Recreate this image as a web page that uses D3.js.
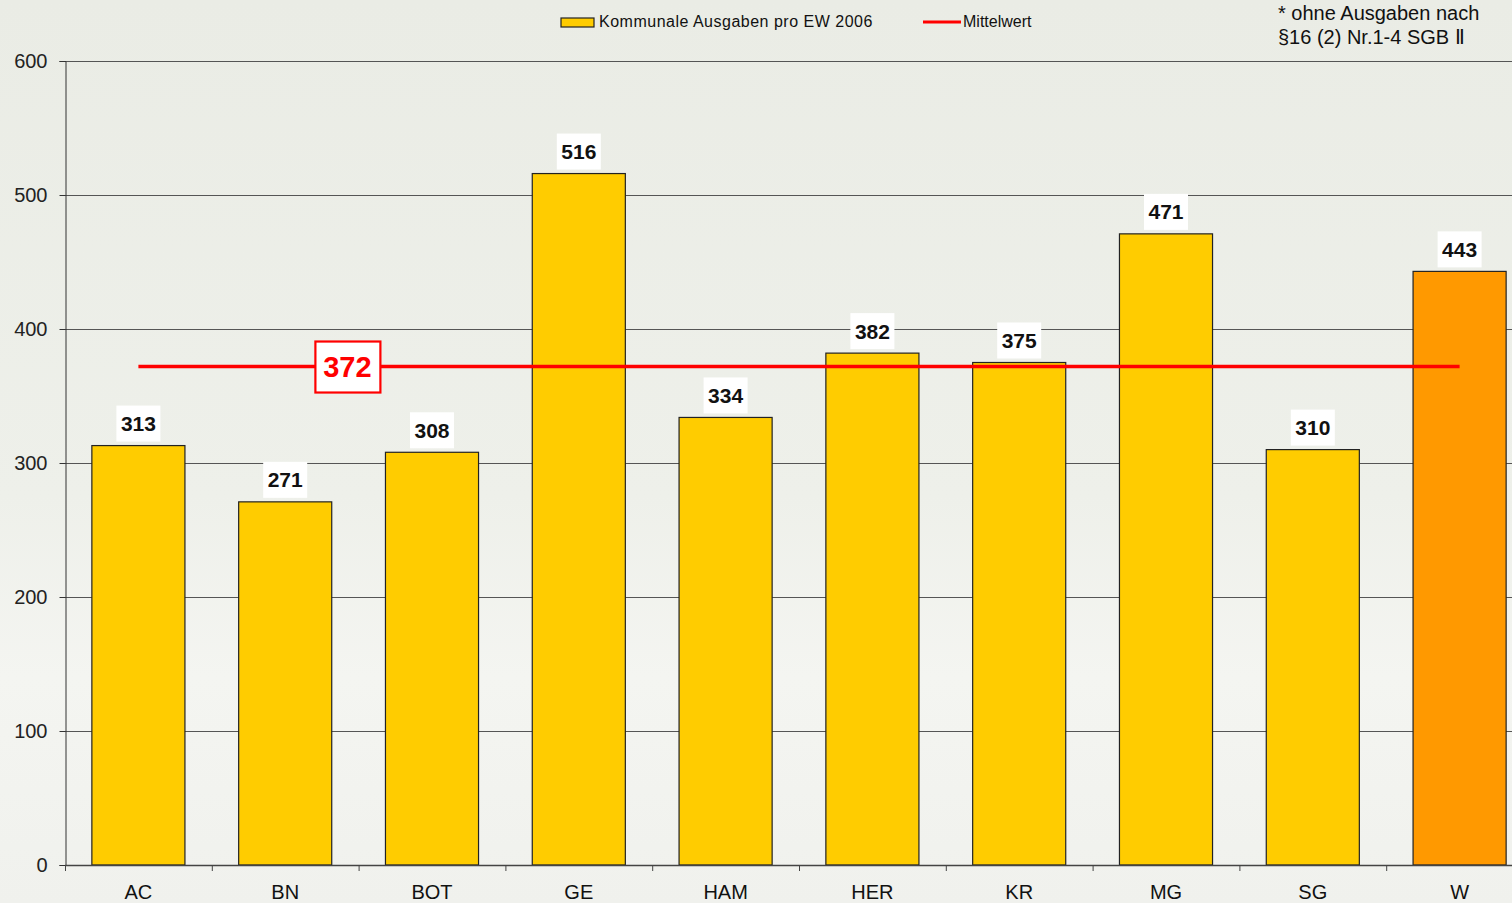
<!DOCTYPE html>
<html>
<head>
<meta charset="utf-8">
<script src="https://cdn.jsdelivr.net/npm/d3@7"></script>
<style>
html,body{margin:0;padding:0;overflow:hidden;background:#eef0ea;}
svg{display:block;font-family:"Liberation Sans",Arial,sans-serif;}
</style>
</head>
<body>
<svg id="chart" width="1512" height="903"></svg>
<script>
const categories = ["AC","BN","BOT","GE","HAM","HER","KR","MG","SG","W"];
const values = [313,271,308,516,334,382,375,471,310,443];
const highlight = ["W"];
const meanValue = 372;
const yTicks = [0,100,200,300,400,500,600];
const seriesName = "Kommunale Ausgaben pro EW 2006";
const meanName = "Mittelwert";
const footnote = ["* ohne Ausgaben nach","§16 (2) Nr.1-4 SGB Ⅱ"];

const svg = d3.select("#chart");
const W = 1512, H = 903;

// background
const defs = svg.append("defs");
const g1 = defs.append("linearGradient").attr("id","bg").attr("x1",0).attr("y1",0).attr("x2",0).attr("y2",1);
g1.append("stop").attr("offset","0").attr("stop-color","#eaece5");
g1.append("stop").attr("offset","0.55").attr("stop-color","#eef0ea");
g1.append("stop").attr("offset","0.75").attr("stop-color","#f4f5f1");
g1.append("stop").attr("offset","1").attr("stop-color","#f0f1ed");
svg.append("rect").attr("width",W).attr("height",H).attr("fill","url(#bg)");

const x = d3.scaleBand().domain(categories).range([65,1533]).paddingInner(0.366).paddingOuter(0.183);
const y = d3.scaleLinear().domain([0,600]).range([865,61]);

// gridlines
svg.append("g").selectAll("line").data(yTicks.filter(d=>d>0)).join("line")
  .attr("x1",65).attr("x2",W).attr("y1",d=>y(d)+0.5).attr("y2",d=>y(d)+0.5)
  .attr("stroke","#555").attr("stroke-width",1);

// y axis
const yAxis = svg.append("g").attr("transform","translate(65.5,0)")
  .call(d3.axisLeft(y).tickValues(yTicks).tickSize(6).tickPadding(10).tickFormat(d3.format("d")));
yAxis.select(".domain").attr("stroke","#333");
yAxis.selectAll(".tick line").attr("stroke","#333");
yAxis.selectAll(".tick text").attr("font-size","20px").attr("fill","#222")
  .attr("font-family","Liberation Sans, Arial, sans-serif").attr("dx","-2");

// bars
svg.append("g").selectAll("rect").data(categories).join("rect")
  .attr("x",d=>x(d)).attr("width",x.bandwidth())
  .attr("y",(d,i)=>y(values[i])).attr("height",(d,i)=>y(0)-y(values[i]))
  .attr("fill",d=>highlight.includes(d)?"#ff9900":"#ffcc00")
  .attr("stroke","#222").attr("stroke-width",1.2);

// x axis
const xAxis = svg.append("g").attr("transform","translate(0,865.5)")
  .call(d3.axisBottom(x).tickSize(0).tickPadding(19));
xAxis.select(".domain").remove();
svg.append("line").attr("x1",65).attr("x2",W).attr("y1",865.5).attr("y2",865.5).attr("stroke","#444").attr("stroke-width",1.5);
const step = x.step();
svg.append("g").selectAll("line").data(d3.range(categories.length)).join("line")
  .attr("x1",(d)=>65.5+d*step).attr("x2",(d)=>65.5+d*step).attr("y1",865).attr("y2",871)
  .attr("stroke","#444").attr("stroke-width",1);
xAxis.selectAll(".tick text").attr("font-size","20px").attr("fill","#111")
  .attr("font-family","Liberation Sans, Arial, sans-serif");

// value labels with white boxes
const lab = svg.append("g").selectAll("g").data(categories).join("g")
  .attr("transform",(d,i)=>`translate(${x(d)+x.bandwidth()/2},${y(values[i])-22})`);
lab.append("rect").attr("x",-22).attr("width",44).attr("y",-18).attr("height",36).attr("fill","#ffffff");
lab.append("text").attr("text-anchor","middle").attr("y",7.5)
  .attr("font-size","21px").attr("font-weight","bold").attr("fill","#111")
  .text((d,i)=>values[i]);

// mean line
const xa = x(categories[0])+x.bandwidth()/2, xb = x(categories[categories.length-1])+x.bandwidth()/2;
svg.append("line").attr("x1",xa).attr("x2",xb).attr("y1",y(meanValue)).attr("y2",y(meanValue))
  .attr("stroke","#ff0000").attr("stroke-width",3.5);
const mg = svg.append("g").attr("transform",`translate(${xa+209},${y(meanValue)})`);
mg.append("rect").attr("x",-32).attr("y",-25).attr("width",65).attr("height",51)
  .attr("fill","#fff").attr("stroke","#ff0000").attr("stroke-width",2.2);
mg.append("text").attr("text-anchor","middle").attr("y",10.5)
  .attr("font-size","29px").attr("font-weight","bold").attr("fill","#ff0000").text(meanValue);

// legend
const lg = svg.append("g");
lg.append("rect").attr("x",561).attr("y",18).attr("width",33).attr("height",9)
  .attr("fill","#ffcc00").attr("stroke","#222").attr("stroke-width",1.2);
lg.append("text").attr("x",599).attr("y",27).attr("font-size","16px").attr("fill","#111")
  .attr("letter-spacing","0.5").text(seriesName);
lg.append("line").attr("x1",923).attr("x2",961).attr("y1",22).attr("y2",22)
  .attr("stroke","#ff0000").attr("stroke-width",3);
lg.append("text").attr("x",963).attr("y",27).attr("font-size","16px").attr("fill","#111").text(meanName);

// footnote
svg.append("g").selectAll("text").data(footnote).join("text")
  .attr("x",1278).attr("y",(d,i)=>20+i*24).attr("font-size","20px").attr("fill","#111")
  .text(d=>d);
</script>
</body>
</html>
